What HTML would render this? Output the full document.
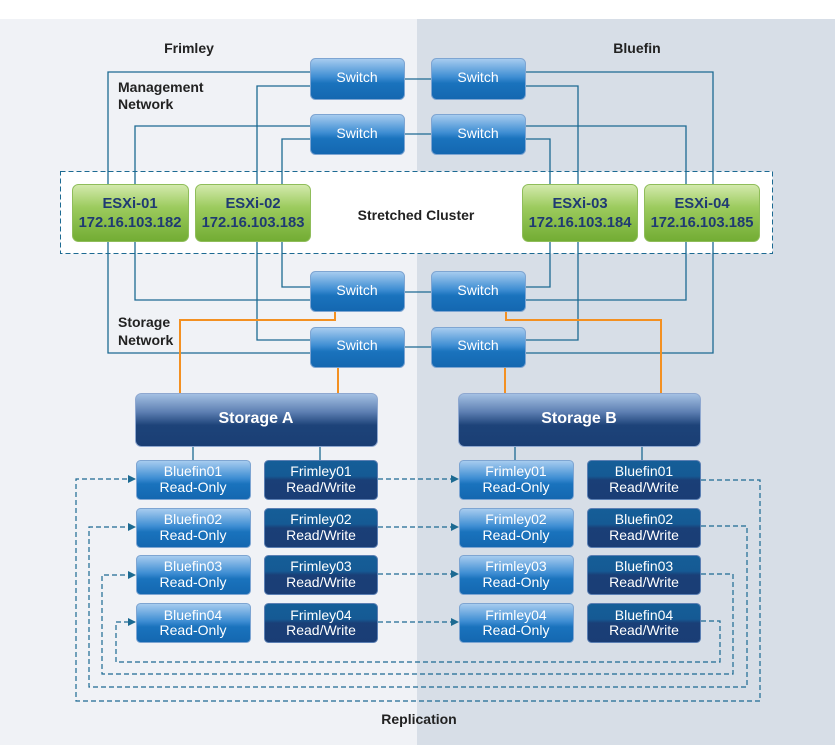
<!DOCTYPE html>
<html><head><meta charset="utf-8"><style>
html,body{margin:0;padding:0;background:#fff}
svg{display:block}
text{font-family:"Liberation Sans",sans-serif}
</style></head><body>
<svg width="835" height="745" viewBox="0 0 835 745" xmlns="http://www.w3.org/2000/svg">
<defs>
<linearGradient id="sw" x1="0" y1="0" x2="0" y2="1">
<stop offset="0" stop-color="#a9cdf0"/><stop offset="0.45" stop-color="#3f8ed3"/><stop offset="0.6" stop-color="#1a73bd"/><stop offset="1" stop-color="#1467b0"/></linearGradient>
<linearGradient id="gr" x1="0" y1="0" x2="0" y2="1">
<stop offset="0" stop-color="#d4eaae"/><stop offset="0.4" stop-color="#9ccb5e"/><stop offset="1" stop-color="#72ac33"/></linearGradient>
<linearGradient id="st" x1="0" y1="0" x2="0" y2="1">
<stop offset="0" stop-color="#a6c2e4"/><stop offset="0.35" stop-color="#5d7fb2"/><stop offset="0.6" stop-color="#1d4379"/><stop offset="1" stop-color="#1a3e74"/></linearGradient>
<linearGradient id="dk" x1="0" y1="0" x2="0" y2="1">
<stop offset="0" stop-color="#155e98"/><stop offset="0.4" stop-color="#155a94"/><stop offset="0.5" stop-color="#1a3f77"/><stop offset="1" stop-color="#1a3d75"/></linearGradient>
<marker id="ar" markerWidth="8" markerHeight="8" refX="7" refY="4" orient="auto" markerUnits="userSpaceOnUse"><path d="M0,0 L8,4 L0,8 z" fill="#1c6a92"/></marker>
</defs>
<rect x="0" y="19" width="417" height="726" fill="#f0f2f6"/>
<rect x="417" y="19" width="418" height="726" fill="#d7dee7"/>
<rect x="60.5" y="171.5" width="712" height="82" fill="#fff" stroke="#1c6a92" stroke-dasharray="5,3"/>

<g fill="none" stroke="#1c6a92" stroke-width="1.3">
<path d="M108,184 V72 H310 M135,184 V126 H310 M257,184 V86 H310 M282,184 V139 H310"/>
<path d="M282,241 V287 H310 M135,241 V300 H310 M257,241 V340 H310 M108,241 V353 H310"/>
<path d="M404,79 H431 M404,134 H431 M404,292 H431 M404,347 H431"/>
<path d="M525,72 H713 V184 M525,86 H578 V184 M525,126 H686 V184 M525,139 H550 V184"/>
<path d="M525,287 H550 V241 M525,300 H686 V241 M525,340 H578 V241 M525,353 H713 V241"/>
<path d="M193,446 V460 M320,446 V460 M515,446 V460 M642,446 V460"/>
</g>
<g fill="none" stroke="#f39021" stroke-width="2">
<path d="M335,311 V320 H180 V393 M338,367 V393 M506,311 V320 H661 V393 M505,367 V393"/>
</g>

<g font-size="14" font-weight="bold" fill="#222">
<text x="189" y="53" text-anchor="middle">Frimley</text>
<text x="637" y="53" text-anchor="middle">Bluefin</text>
<text x="118" y="92">Management</text><text x="118" y="109">Network</text>
<text x="118" y="327">Storage</text><text x="118" y="345">Network</text>
<text x="416" y="220" text-anchor="middle">Stretched Cluster</text>
<text x="419" y="724" text-anchor="middle">Replication</text>
</g>

<g stroke="#7ea5d2" stroke-width="1" fill="url(#sw)">
<rect x="310.5" y="58.5" width="94" height="41" rx="5"/>
<rect x="310.5" y="114.5" width="94" height="40" rx="5"/>
<rect x="310.5" y="271.5" width="94" height="40" rx="5"/>
<rect x="310.5" y="327.5" width="94" height="40" rx="5"/>
<rect x="431.5" y="58.5" width="94" height="41" rx="5"/>
<rect x="431.5" y="114.5" width="94" height="40" rx="5"/>
<rect x="431.5" y="271.5" width="94" height="40" rx="5"/>
<rect x="431.5" y="327.5" width="94" height="40" rx="5"/>
</g>
<g font-size="14" fill="#fff" text-anchor="middle">
<text x="357" y="82">Switch</text><text x="357" y="138">Switch</text><text x="357" y="295">Switch</text><text x="357" y="350">Switch</text>
<text x="478" y="82">Switch</text><text x="478" y="138">Switch</text><text x="478" y="295">Switch</text><text x="478" y="350">Switch</text>
</g>

<g stroke="#8fbd5a" fill="url(#gr)">
<rect x="72.5" y="184.5" width="116" height="57" rx="6"/>
<rect x="195.5" y="184.5" width="115" height="57" rx="6"/>
<rect x="522.5" y="184.5" width="115" height="57" rx="6"/>
<rect x="644.5" y="184.5" width="115" height="57" rx="6"/>
</g>
<g font-size="14.8" font-weight="bold" fill="#1f3a72" text-anchor="middle">
<text x="130" y="208">ESXi-01</text><text x="130" y="227">172.16.103.182</text>
<text x="253" y="208">ESXi-02</text><text x="253" y="227">172.16.103.183</text>
<text x="580" y="208">ESXi-03</text><text x="580" y="227">172.16.103.184</text>
<text x="702" y="208">ESXi-04</text><text x="702" y="227">172.16.103.185</text>
</g>

<g stroke="#8fa8d0" fill="url(#st)">
<rect x="135.5" y="393.5" width="242" height="53" rx="6"/>
<rect x="458.5" y="393.5" width="242" height="53" rx="6"/>
</g>
<g font-size="16" font-weight="bold" fill="#fff" text-anchor="middle">
<text x="256" y="423">Storage A</text><text x="579" y="423">Storage B</text>
</g>

<g stroke="#7ea5d2" fill="url(#sw)">
<rect x="136.5" y="460.5" width="114" height="39" rx="4"/>
<rect x="136.5" y="508.5" width="114" height="39" rx="4"/>
<rect x="136.5" y="555.5" width="114" height="39" rx="4"/>
<rect x="136.5" y="603.5" width="114" height="39" rx="4"/>
<rect x="459.5" y="460.5" width="114" height="39" rx="4"/>
<rect x="459.5" y="508.5" width="114" height="39" rx="4"/>
<rect x="459.5" y="555.5" width="114" height="39" rx="4"/>
<rect x="459.5" y="603.5" width="114" height="39" rx="4"/>
</g>
<g stroke="#5b7fb3" fill="url(#dk)">
<rect x="264.5" y="460.5" width="113" height="39" rx="4"/>
<rect x="264.5" y="508.5" width="113" height="39" rx="4"/>
<rect x="264.5" y="555.5" width="113" height="39" rx="4"/>
<rect x="264.5" y="603.5" width="113" height="39" rx="4"/>
<rect x="587.5" y="460.5" width="113" height="39" rx="4"/>
<rect x="587.5" y="508.5" width="113" height="39" rx="4"/>
<rect x="587.5" y="555.5" width="113" height="39" rx="4"/>
<rect x="587.5" y="603.5" width="113" height="39" rx="4"/>
</g>
<g font-size="14" fill="#fff" text-anchor="middle">
<text x="193" y="476">Bluefin01</text><text x="193" y="492">Read-Only</text>
<text x="193" y="524">Bluefin02</text><text x="193" y="540">Read-Only</text>
<text x="193" y="571">Bluefin03</text><text x="193" y="587">Read-Only</text>
<text x="193" y="620">Bluefin04</text><text x="193" y="635">Read-Only</text>
<text x="321" y="476">Frimley01</text><text x="321" y="492">Read/Write</text>
<text x="321" y="524">Frimley02</text><text x="321" y="540">Read/Write</text>
<text x="321" y="571">Frimley03</text><text x="321" y="587">Read/Write</text>
<text x="321" y="620">Frimley04</text><text x="321" y="635">Read/Write</text>
<text x="516" y="476">Frimley01</text><text x="516" y="492">Read-Only</text>
<text x="516" y="524">Frimley02</text><text x="516" y="540">Read-Only</text>
<text x="516" y="571">Frimley03</text><text x="516" y="587">Read-Only</text>
<text x="516" y="620">Frimley04</text><text x="516" y="635">Read-Only</text>
<text x="644" y="476">Bluefin01</text><text x="644" y="492">Read/Write</text>
<text x="644" y="524">Bluefin02</text><text x="644" y="540">Read/Write</text>
<text x="644" y="571">Bluefin03</text><text x="644" y="587">Read/Write</text>
<text x="644" y="620">Bluefin04</text><text x="644" y="635">Read/Write</text>
</g>

<g fill="none" stroke="#1c6a92" stroke-width="1.2" stroke-dasharray="5,3">
<path d="M378,479 H458" marker-end="url(#ar)"/>
<path d="M378,527 H458" marker-end="url(#ar)"/>
<path d="M378,574 H458" marker-end="url(#ar)"/>
<path d="M378,622 H458" marker-end="url(#ar)"/>
<path d="M701,480 H760 V701 H76 V479 H135" marker-end="url(#ar)"/>
<path d="M701,526 H747 V687 H89 V527 H135" marker-end="url(#ar)"/>
<path d="M701,574 H733 V674 H102 V575 H135" marker-end="url(#ar)"/>
<path d="M701,621 H720 V662 H116 V622 H135" marker-end="url(#ar)"/>
</g>
</svg>
</body></html>
